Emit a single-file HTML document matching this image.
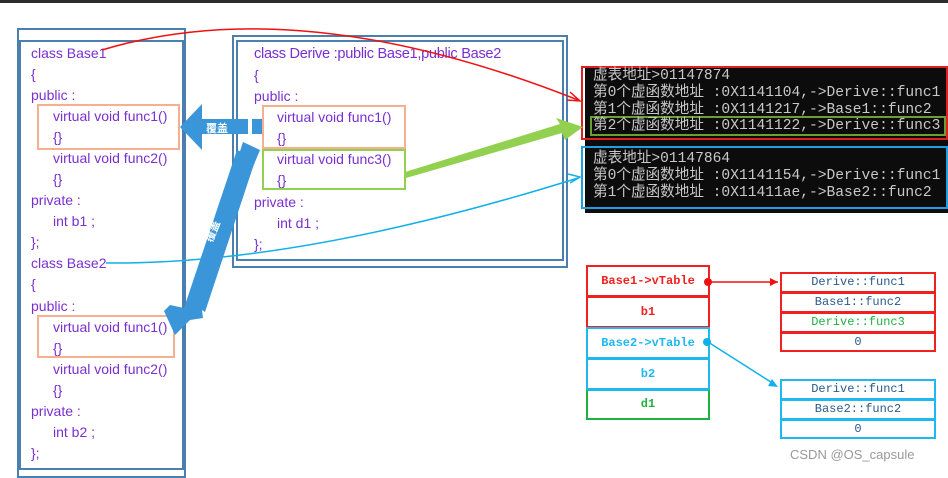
<!DOCTYPE html>
<html><head><meta charset="utf-8"><style>
body{margin:0;width:948px;height:472px;background:#fff;position:relative;overflow:hidden;font-family:"Liberation Sans","Noto Sans CJK SC",sans-serif}
.t{position:absolute;font-size:14px;color:#7b2fd0;white-space:nowrap;line-height:16px}
.b{position:absolute;box-sizing:border-box}
.con{position:absolute;font-family:"Liberation Mono","Noto Sans CJK SC",monospace;font-size:14.6px;color:#c8c8c8;white-space:nowrap;line-height:17px}
.cell{position:absolute;box-sizing:border-box;font-family:"Liberation Mono","Noto Sans CJK SC",monospace;font-size:12px;text-align:center}
.bd{font-weight:bold}
</style></head><body>
<div class="b" style="left:0;top:0;width:948px;height:3px;background:#2b2b2b"></div>
<div class="b" style="left:17px;top:28px;width:169px;height:450px;border:2px solid #4a7fb0"></div>
<div class="b" style="left:19px;top:40px;width:165px;height:430px;border:2px solid #4a7fb0"></div>
<div class="b" style="left:232px;top:35px;width:336px;height:233px;border:2px solid #4a7fb0"></div>
<div class="b" style="left:236px;top:40px;width:328px;height:221px;border:2px solid #4a7fb0"></div>
<div class="b" style="left:37px;top:104px;width:143px;height:46px;border:2px solid #f5b090"></div>
<div class="b" style="left:37px;top:315px;width:138px;height:43px;border:2px solid #f5b090"></div>
<div class="b" style="left:262px;top:105px;width:144px;height:44px;border:2px solid #f5b090"></div>
<div class="b" style="left:262px;top:149px;width:144px;height:41px;border:2px solid #92d050"></div>

<div class="t" style="left:31px;top:45px">class Base1</div>
<div class="t" style="left:31px;top:66px">{</div>
<div class="t" style="left:31px;top:87px">public :</div>
<div class="t" style="left:53px;top:108px">virtual void func1()</div>
<div class="t" style="left:53px;top:129px">{}</div>
<div class="t" style="left:53px;top:150px">virtual void func2()</div>
<div class="t" style="left:53px;top:171px">{}</div>
<div class="t" style="left:31px;top:192px">private :</div>
<div class="t" style="left:53px;top:213px">int b1 ;</div>
<div class="t" style="left:31px;top:234px">};</div>
<div class="t" style="left:31px;top:255px">class Base2</div>
<div class="t" style="left:31px;top:276px">{</div>
<div class="t" style="left:31px;top:298px">public :</div>
<div class="t" style="left:53px;top:319px">virtual void func1()</div>
<div class="t" style="left:53px;top:340px">{}</div>
<div class="t" style="left:53px;top:361px">virtual void func2()</div>
<div class="t" style="left:53px;top:382px">{}</div>
<div class="t" style="left:31px;top:403px">private :</div>
<div class="t" style="left:53px;top:424px">int b2 ;</div>
<div class="t" style="left:31px;top:445px">};</div>

<div class="t" style="left:254px;top:46px;font-size:14.6px;letter-spacing:-0.3px">class Derive :public Base1,public Base2</div>
<div class="t" style="left:254px;top:67px">{</div>
<div class="t" style="left:254px;top:88px">public :</div>
<div class="t" style="left:277px;top:109px">virtual void func1()</div>
<div class="t" style="left:277px;top:130px">{}</div>
<div class="t" style="left:277px;top:151px">virtual void func3()</div>
<div class="t" style="left:277px;top:172px">{}</div>
<div class="t" style="left:254px;top:194px">private :</div>
<div class="t" style="left:277px;top:215px">int d1 ;</div>
<div class="t" style="left:254px;top:236px">};</div>

<div class="b" style="left:585px;top:66px;width:363px;height:147px;background:#0c0c0c"></div>
<div class="b" style="left:581px;top:66px;width:367px;height:74px;border:2px solid #e02020"></div>
<div class="b" style="left:581px;top:146px;width:367px;height:63px;border:2px solid #1ea0e0"></div>
<div class="b" style="left:590px;top:116px;width:356px;height:20px;border:2px solid #6aa030"></div>
<div class="con" style="left:593px;top:68px">虚表地址&gt;01147874</div>
<div class="con" style="left:593px;top:85px">第0个虚函数地址 :0X1141104,-&gt;Derive::func1</div>
<div class="con" style="left:593px;top:102px">第1个虚函数地址 :0X1141217,-&gt;Base1::func2</div>
<div class="con" style="left:593px;top:118px">第2个虚函数地址 :0X1141122,-&gt;Derive::func3</div>
<div class="con" style="left:593px;top:151px">虚表地址&gt;01147864</div>
<div class="con" style="left:593px;top:168px">第0个虚函数地址 :0X1141154,-&gt;Derive::func1</div>
<div class="con" style="left:593px;top:185px">第1个虚函数地址 :0X11411ae,-&gt;Base2::func2</div>

<div class="cell bd" style="left:586px;top:265px;width:124px;height:32px;border:2px solid #f02020;color:#f02020;line-height:28px">Base1-&gt;vTable</div>
<div class="cell bd" style="left:586px;top:296px;width:124px;height:32px;border:2px solid #f02020;color:#f02020;line-height:28px">b1</div>
<div class="cell bd" style="left:586px;top:327px;width:124px;height:32px;border:2px solid #20b8f0;color:#20b8f0;line-height:28px">Base2-&gt;vTable</div>
<div class="cell bd" style="left:586px;top:358px;width:124px;height:32px;border:2px solid #20b8f0;color:#20b8f0;line-height:28px">b2</div>
<div class="cell bd" style="left:586px;top:389px;width:124px;height:31px;border:2px solid #20b040;color:#20b040;line-height:27px;border-top-color:#20b8f0">d1</div>

<div class="cell" style="left:780px;top:272px;width:156px;height:21px;border:2px solid #f02020;color:#2a5a8a;line-height:17px">Derive::func1</div>
<div class="cell" style="left:780px;top:292px;width:156px;height:21px;border:2px solid #f02020;color:#2a5a8a;line-height:17px">Base1::func2</div>
<div class="cell" style="left:780px;top:312px;width:156px;height:21px;border:2px solid #f02020;color:#20b040;line-height:17px">Derive::func3</div>
<div class="cell" style="left:780px;top:332px;width:156px;height:20px;border:2px solid #f02020;color:#2a5a8a;line-height:16px">0</div>
<div class="cell" style="left:780px;top:379px;width:156px;height:21px;border:2px solid #20b8f0;color:#2a5a8a;line-height:17px">Derive::func1</div>
<div class="cell" style="left:780px;top:399px;width:156px;height:21px;border:2px solid #20b8f0;color:#2a5a8a;line-height:17px">Base2::func2</div>
<div class="cell" style="left:780px;top:419px;width:156px;height:20px;border:2px solid #20b8f0;color:#2a5a8a;line-height:16px">0</div>
<div style="position:absolute;left:790px;top:447px;font-size:13px;color:#999">CSDN @OS_capsule</div>

<svg width="948" height="472" style="position:absolute;left:0;top:0">
<path d="M102 50 Q 300 -10 578 100" fill="none" stroke="#f01010" stroke-width="1.5"/>
<path d="M570 92 L580 101 L567 100" fill="none" stroke="#f01010" stroke-width="1.5"/>
<path d="M106 263 Q 300 265 578 178" fill="none" stroke="#10b0e8" stroke-width="1.5"/>
<path d="M568 174 L580 177 L570 183" fill="none" stroke="#10b0e8" stroke-width="1.5"/>
<polygon points="405,172 560,124 556,118 583,127 565,140 562,133 406,178" fill="#92d050"/>
<polygon points="180,127 202,104 202,119 248,119 248,134 202,134 202,150" fill="#3a96d8"/>
<text x="206" y="132" font-size="11" fill="#fff" font-family="Noto Sans CJK SC,sans-serif" font-weight="bold">覆盖</text>
<polygon points="252,119 262,119 262,134 252,134" fill="#3a96d8"/>
<polygon points="243,142 260,150 208,275 201,272" fill="#3a96d8"/>
<polygon points="237,150 256,158 205,312 202,310 203,318 190,320 175,335 164,311 170,305 184,308" fill="#3a96d8"/>
<text x="0" y="0" font-size="11" fill="#fff" font-family="Noto Sans CJK SC,sans-serif" font-weight="bold" transform="translate(212,243) rotate(-68)">覆盖</text>
<line x1="709" y1="282" x2="778" y2="282" stroke="#f01010" stroke-width="1.5"/>
<circle cx="708" cy="282" r="4" fill="#f01010"/>
<polygon points="778,282 770,278 770,286" fill="#f01010"/>
<line x1="708" y1="342" x2="774" y2="384" stroke="#10b0e8" stroke-width="1.5"/>
<circle cx="707" cy="342" r="4" fill="#10b0e8"/>
<polygon points="778,387 768,386 772,379" fill="#10b0e8"/>
</svg>
</body></html>
